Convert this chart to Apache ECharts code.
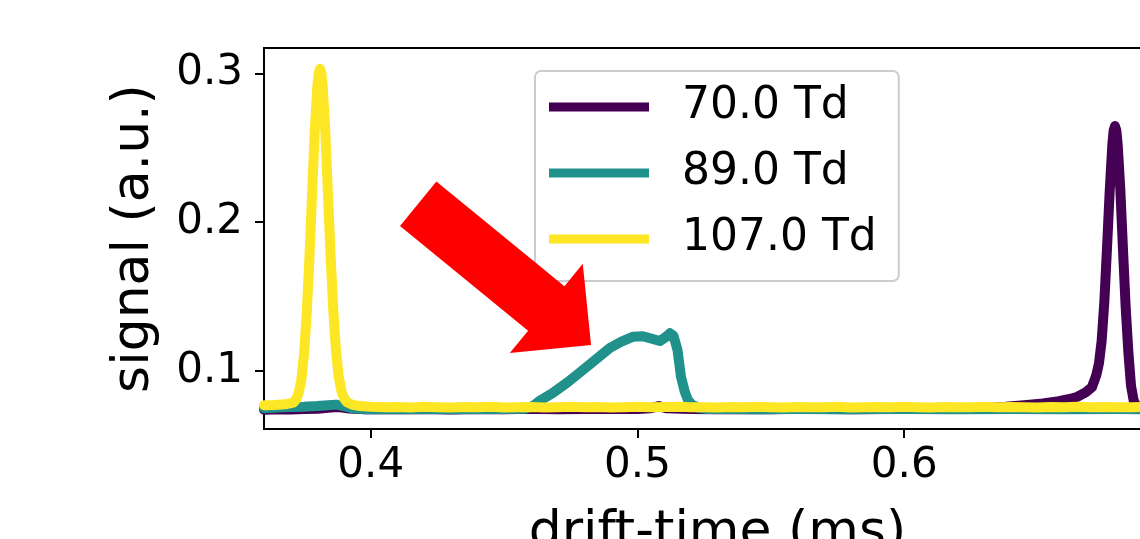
<!DOCTYPE html>
<html>
<head>
<meta charset="utf-8">
<script src="https://cdn.jsdelivr.net/npm/echarts@6/dist/echarts.min.js"></script>
<style>
    html, body { margin: 0; padding: 0; background: #fff; }
    #chart { width: 1140px; height: 539px; }
</style>
</head>
<body>
<div id="chart"></div>
<script>
// 图例名称
const seriesNames = ['70.0 Td', '89.0 Td', '107.0 Td'];

// 70.0 Td
const time70 = [0.360, 0.365, 0.370, 0.375, 0.380, 0.385, 0.388, 0.392, 0.398, 0.405, 0.412, 0.420, 0.430, 0.440,
    0.450, 0.460, 0.470, 0.480, 0.490, 0.500, 0.505, 0.508, 0.511, 0.520, 0.530, 0.540, 0.550, 0.560, 0.570, 0.580,
    0.590, 0.600, 0.610, 0.620, 0.630, 0.638, 0.645, 0.652, 0.658, 0.662, 0.665, 0.668, 0.6704, 0.672, 0.673, 0.674,
    0.675, 0.676, 0.677, 0.678, 0.6785, 0.679, 0.6795, 0.680, 0.681, 0.682, 0.683, 0.684, 0.685, 0.686, 0.687, 0.688,
    0.690, 0.695, 0.700];
const signal70 = [0.0738, 0.0741, 0.0739, 0.0742, 0.0744, 0.0752, 0.0756, 0.0746, 0.0741, 0.0743, 0.0740, 0.0742, 0.0739, 0.0743,
    0.0741, 0.0744, 0.0740, 0.0742, 0.0745, 0.0743, 0.0748, 0.0762, 0.0747, 0.0742, 0.0740, 0.0743, 0.0741, 0.0744, 0.0742, 0.0740,
    0.0743, 0.0742, 0.0744, 0.0743, 0.0750, 0.0758, 0.0768, 0.0780, 0.0795, 0.0810, 0.0825, 0.0855, 0.0890, 0.0970, 0.1050, 0.1200,
    0.1460, 0.1820, 0.2200, 0.2520, 0.2615, 0.2645, 0.2615, 0.2525, 0.2220, 0.1815, 0.1430, 0.1130, 0.0900, 0.0800, 0.0762, 0.0752,
    0.0746, 0.0744, 0.0745];

// 89.0 Td
const time89 = [0.360, 0.365, 0.370, 0.375, 0.380, 0.384, 0.387, 0.390, 0.393, 0.398, 0.405, 0.412, 0.420, 0.430, 0.440,
    0.450, 0.458, 0.461, 0.4635, 0.4683, 0.474, 0.4796, 0.485, 0.4897, 0.494, 0.4984, 0.502, 0.5047, 0.5084, 0.5105,
    0.5122, 0.5135, 0.5150, 0.5163, 0.5177, 0.5190, 0.5205, 0.5230, 0.5260, 0.535, 0.545, 0.560, 0.580, 0.600, 0.620,
    0.640, 0.660, 0.680, 0.700];
const signal89 = [0.0748, 0.0752, 0.0756, 0.0758, 0.0762, 0.0768, 0.0772, 0.0762, 0.0748, 0.0741, 0.0743, 0.0740, 0.0742, 0.0741, 0.0743,
    0.0742, 0.0745, 0.0765, 0.0800, 0.0851, 0.0925, 0.1005, 0.1085, 0.1153, 0.1195, 0.1229, 0.1232, 0.1218, 0.1200, 0.1225,
    0.1252, 0.1235, 0.1140, 0.0960, 0.0860, 0.0800, 0.0770, 0.0750, 0.0742, 0.0743, 0.0741, 0.0742, 0.0740, 0.0743, 0.0741,
    0.0742, 0.0740, 0.0742, 0.0741];

// 107.0 Td
const time107 = [0.360, 0.364, 0.368, 0.371, 0.372, 0.373, 0.374, 0.375, 0.376, 0.377, 0.378, 0.379, 0.380, 0.3805, 0.381,
    0.3815, 0.382, 0.383, 0.384, 0.385, 0.386, 0.387, 0.388, 0.389, 0.390, 0.391, 0.393, 0.396,
    0.400, 0.405, 0.410, 0.415, 0.420, 0.425, 0.430, 0.435, 0.440, 0.445, 0.450, 0.455, 0.460, 0.465, 0.470, 0.475,
    0.480, 0.485, 0.490, 0.495, 0.500, 0.505, 0.510, 0.515, 0.520, 0.525, 0.530, 0.535, 0.540, 0.545, 0.550, 0.555,
    0.560, 0.565, 0.570, 0.575, 0.580, 0.585, 0.590, 0.595, 0.600, 0.605, 0.610, 0.615, 0.620, 0.625, 0.630, 0.635,
    0.640, 0.645, 0.650, 0.655, 0.660, 0.665, 0.670, 0.675, 0.680, 0.685, 0.690, 0.695, 0.700];
const signal107 = [0.0768, 0.0770, 0.0774, 0.0785, 0.0805, 0.0850, 0.0940, 0.1110, 0.1380, 0.1750, 0.2180, 0.2600, 0.2915, 0.3000, 0.3030,
    0.3000, 0.2915, 0.2600, 0.2180, 0.1760, 0.1400, 0.1130, 0.0960, 0.0865, 0.0815, 0.0790, 0.0772, 0.0762,
    0.0757, 0.0754, 0.0756, 0.0753, 0.0757, 0.0755, 0.0752, 0.0756, 0.0754, 0.0757, 0.0753, 0.0755, 0.0756, 0.0753, 0.0755, 0.0757,
    0.0754, 0.0756, 0.0753, 0.0755, 0.0757, 0.0754, 0.0756, 0.0758, 0.0754, 0.0755, 0.0753, 0.0756, 0.0754, 0.0757, 0.0755, 0.0753,
    0.0756, 0.0754, 0.0755, 0.0757, 0.0753, 0.0755, 0.0756, 0.0754, 0.0757, 0.0755, 0.0753, 0.0756, 0.0754, 0.0755, 0.0757, 0.0754,
    0.0756, 0.0755, 0.0753, 0.0756, 0.0754, 0.0757, 0.0755, 0.0756, 0.0754, 0.0755, 0.0757, 0.0754, 0.0755];

// 刻度
const xTicks = [0.4, 0.5, 0.6, 0.7];
const yTicks = [0.1, 0.2, 0.3];

// 箭头 (数据坐标: 尾部中心 -> 尖端)
const arrowTail = [0.4178, 0.2122];
const arrowTip = [0.4826, 0.1173];

const colors = ['#440154', '#21918c', '#fde725'];
const font = 'DejaVu Sans';

function toPairs(xs, ys) {
    return xs.map((x, i) => [x, ys[i]]);
}

const seriesData = [toPairs(time70, signal70), toPairs(time89, signal89), toPairs(time107, signal107)];

var myChart = echarts.init(document.getElementById('chart'));

const options = {
    animation: false,
    grid: {
        show: true,
        left: 264,
        top: 48,
        width: 907,
        height: 381,
        containLabel: false,
        outerBoundsMode: 'none',
        borderColor: '#000',
        borderWidth: 2,
        backgroundColor: 'transparent',
    },
    xAxis: {
        type: 'value',
        min: 0.36,
        max: 0.70,
        name: 'drift-time (ms)',
        nameLocation: 'middle',
        nameGap: 78,
        nameTextStyle: { fontFamily: font, fontSize: 52, color: '#000' },
        splitLine: { show: false },
        axisLine: { show: true, lineStyle: { color: '#000', width: 2 } },
        axisTick: { show: true, length: 9, lineStyle: { color: '#000', width: 2 }, customValues: xTicks },
        axisLabel: {
            customValues: xTicks,
            margin: 16,
            fontFamily: font,
            fontSize: 42,
            color: '#000',
            formatter: (v) => v.toFixed(1),
        },
    },
    yAxis: {
        type: 'value',
        min: 0.0608,
        max: 0.317,
        name: 'signal (a.u.)',
        nameLocation: 'middle',
        nameGap: 104,
        nameTextStyle: { fontFamily: font, fontSize: 52, color: '#000' },
        splitLine: { show: false },
        axisLine: { show: true, lineStyle: { color: '#000', width: 2 } },
        axisTick: { show: true, length: 9, lineStyle: { color: '#000', width: 2 }, customValues: yTicks },
        axisLabel: {
            customValues: yTicks,
            margin: 21,
            fontFamily: font,
            fontSize: 42,
            color: '#000',
            formatter: (v) => v.toFixed(1),
        },
    },
    legend: {
        orient: 'vertical',
        left: 535,
        top: 71,
        padding: [14, 22, 20, 14],
        icon: 'rect',
        itemWidth: 100,
        itemHeight: 9,
        itemGap: 22,
        backgroundColor: 'rgba(255,255,255,0.8)',
        borderColor: '#cccccc',
        borderWidth: 2,
        borderRadius: 6,
        textStyle: {
            fontFamily: font,
            fontSize: 44,
            lineHeight: 44,
            color: '#000',
            padding: [0, 0, 0, 28],
        },
        data: seriesNames,
    },
    series: seriesNames.map((name, i) => ({
        name: name,
        type: 'line',
        data: seriesData[i],
        showSymbol: false,
        symbol: 'none',
        color: colors[i],
        lineStyle: { width: 10, color: colors[i], join: 'round', cap: 'round' },
    })),
};

myChart.setOption(options);

// 红色箭头
function drawArrow() {
    const p0 = myChart.convertToPixel({ gridIndex: 0 }, arrowTail);
    const p1 = myChart.convertToPixel({ gridIndex: 0 }, arrowTip);
    const shaft = 57.5, head = 115.4, headLen = 57.8;
    const dx = p1[0] - p0[0], dy = p1[1] - p0[1];
    const len = Math.sqrt(dx * dx + dy * dy);
    const ux = dx / len, uy = dy / len;
    const nx = -uy, ny = ux;
    const bx = p1[0] - ux * headLen, by = p1[1] - uy * headLen;
    const pts = [
        [p0[0] + nx * shaft / 2, p0[1] + ny * shaft / 2],
        [bx + nx * shaft / 2, by + ny * shaft / 2],
        [bx + nx * head / 2, by + ny * head / 2],
        p1,
        [bx - nx * head / 2, by - ny * head / 2],
        [bx - nx * shaft / 2, by - ny * shaft / 2],
        [p0[0] - nx * shaft / 2, p0[1] - ny * shaft / 2],
    ];
    myChart.setOption({
        graphic: [{
            type: 'polygon',
            z: 100,
            shape: { points: pts },
            style: { fill: '#ff0000', stroke: null },
        }],
    });
}
drawArrow();
</script>
</body>
</html>
